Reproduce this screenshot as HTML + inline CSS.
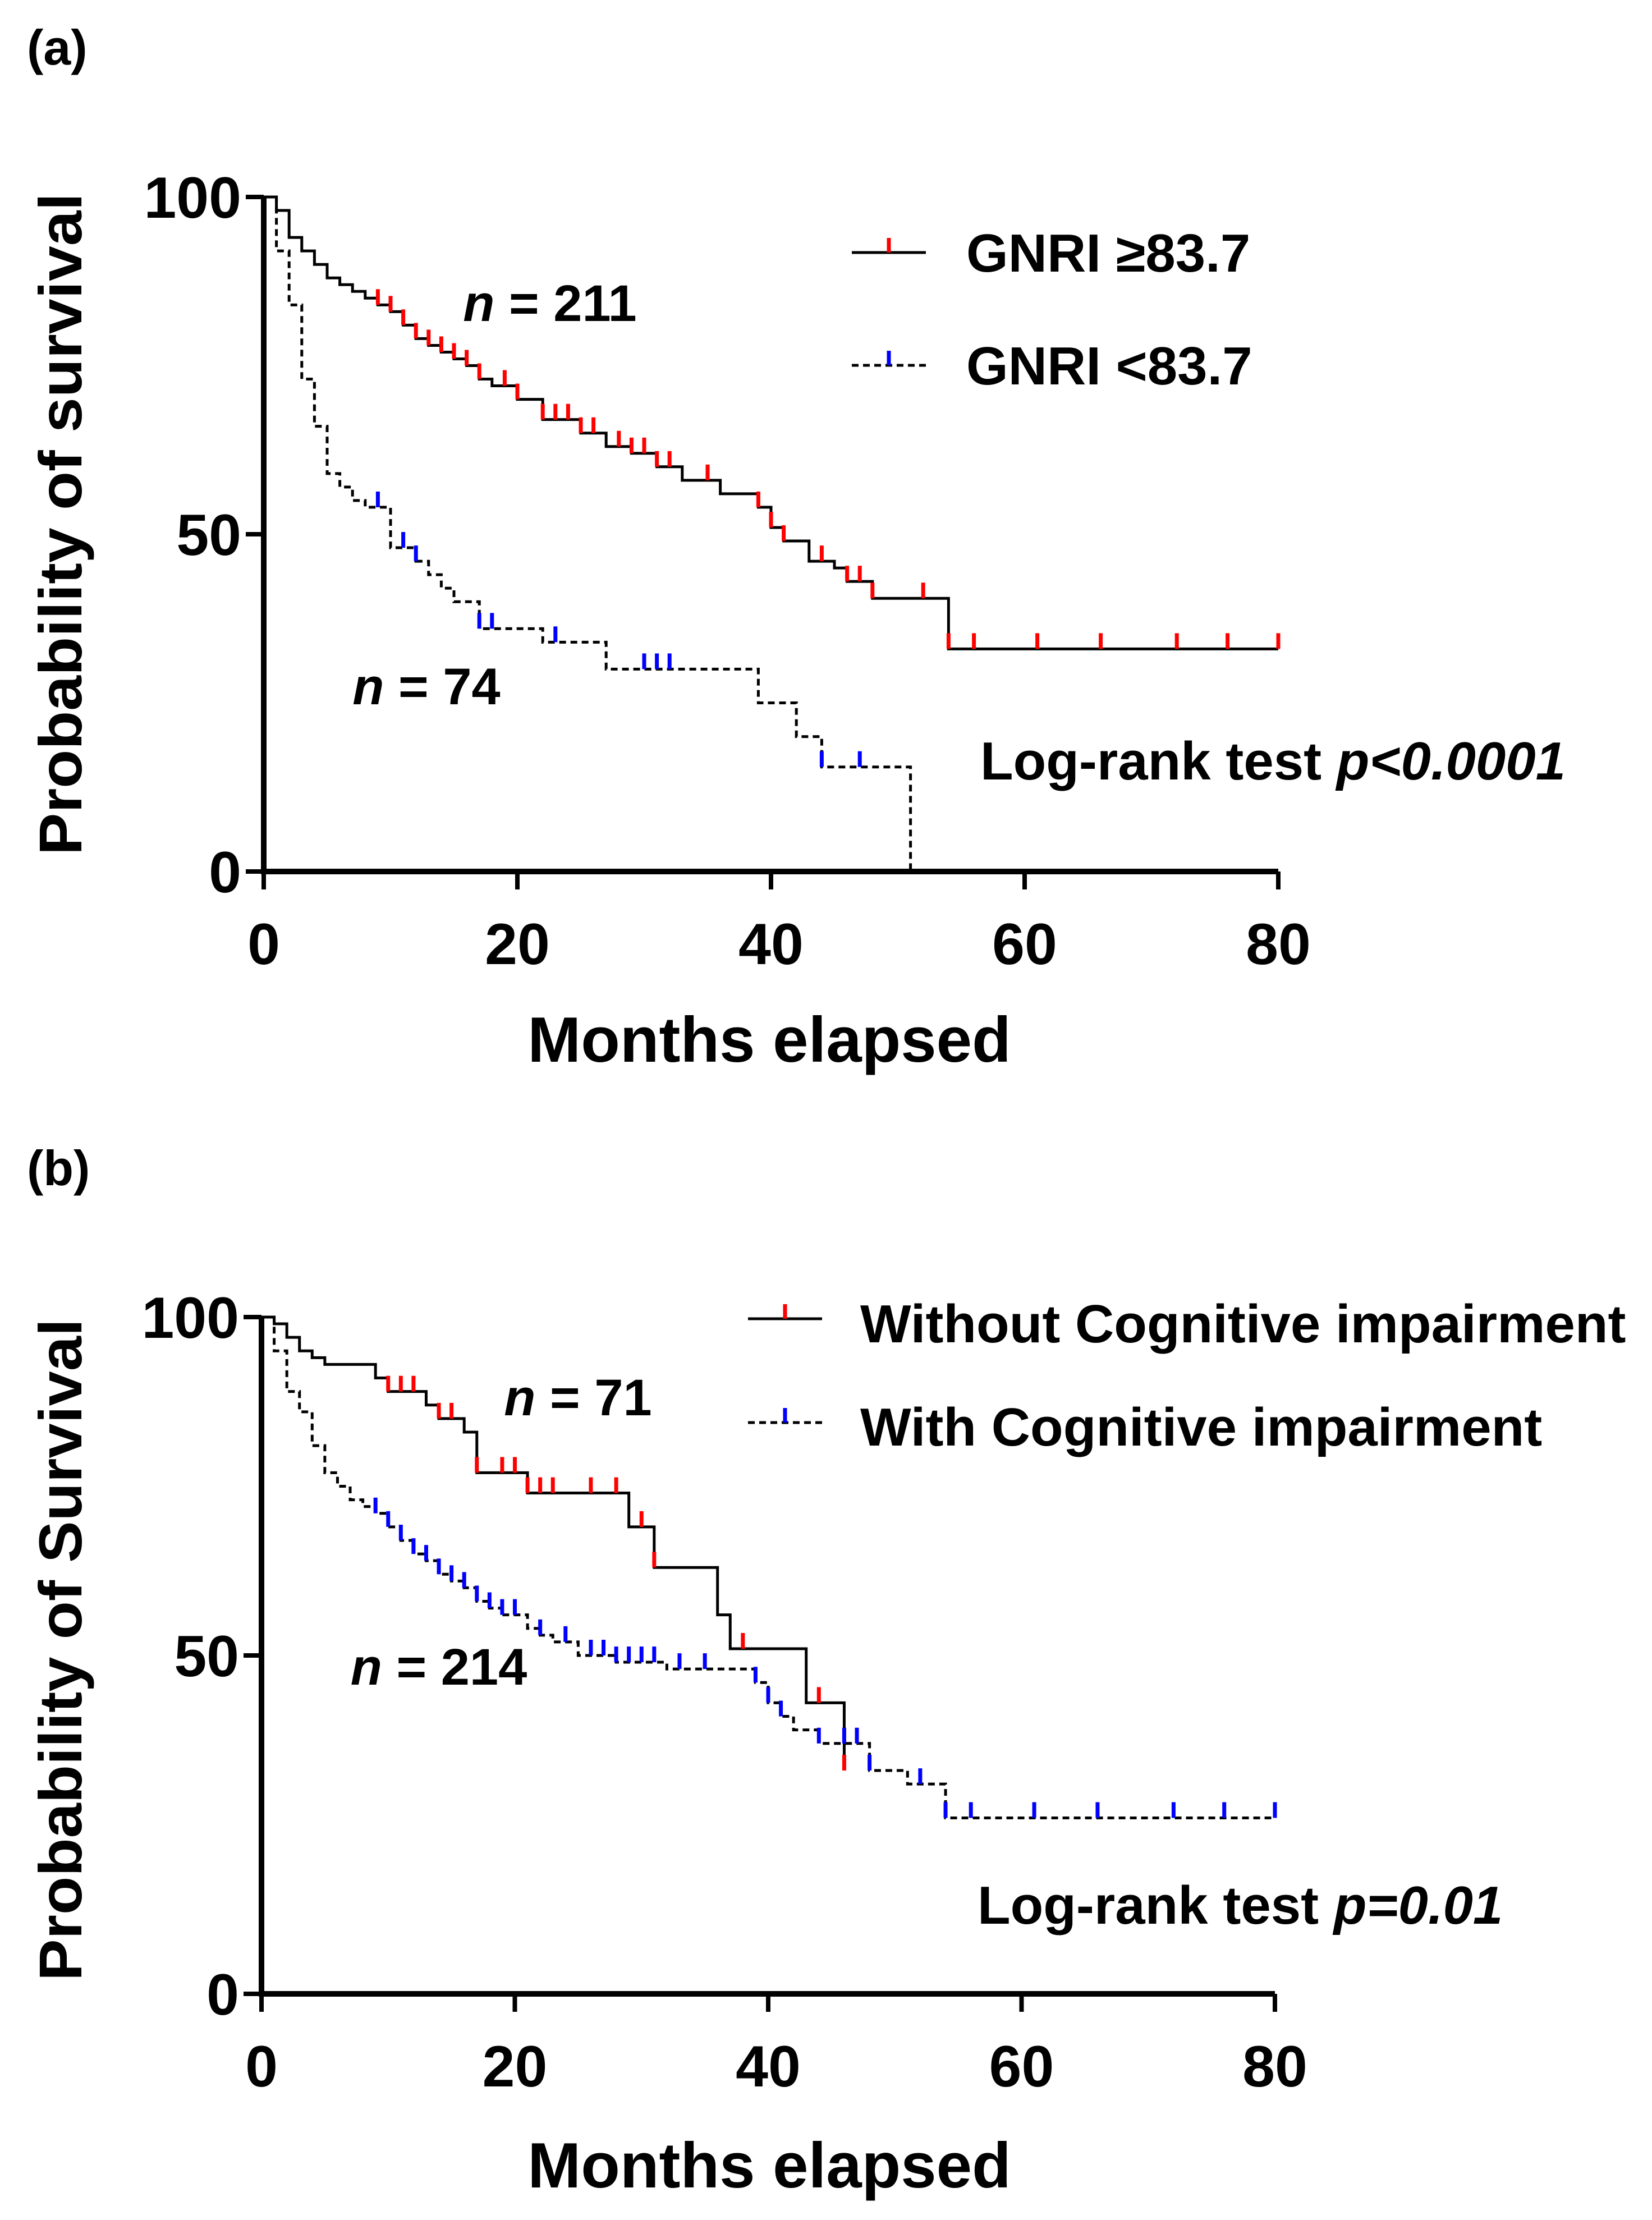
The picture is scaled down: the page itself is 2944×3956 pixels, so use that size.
<!DOCTYPE html>
<html><head><meta charset="utf-8"><style>
body{margin:0;background:#fff}
svg{display:block;font-family:"Liberation Sans",Arial,sans-serif;font-weight:bold}
</style></head><body>
<svg id="fig" width="2944" height="3956" viewBox="0 0 2944 3956" xmlns="http://www.w3.org/2000/svg">
<rect width="2944" height="3956" fill="#fff"/>
<text x="48" y="115" font-size="88">(a)</text>
<text x="48" y="2112" font-size="88">(b)</text>
</svg>
<script>
const xTicks=[0,20,40,60,80];
const yTicks=[0,50,100];
// Panel a
const aHighT=[0,1,2,3,4,5,6,7,8,9,10,11,12,13,14,15,16,17,18,20,22,25,27,29,31,33,36,39,40,41,43,45,46,48,54,80];
const aHighS=[100,98,94,92,90,88,87,86,85,84,83,81,79,78,77,76,75,73,72,70,67,65,63,62,60,58,56,54,51,49,46,45,43,40.5,33,33];
const aHighC=[9,10,11,12,13,14,15,16,17,19,20,22,23,24,25,26,28,29,30,31,32,35,39,40,41,44,46,47,48,52,54,56,61,66,72,76,80];
const aLowT=[0,1,2,3,4,5,6,7,8,10,12,13,14,15,17,22,27,39,42,44,51];
const aLowS=[100,92,84,73,66,59,57,55,54,48,46,44,42,40,36,34,30,25,20,15.5,0];
const aLowC=[9,11,12,17,18,23,30,31,32,44,47];
// Panel b
const bWithoutT=[0,1,2,3,4,5,9,10,13,14,16,17,21,29,31,36,37,43,46];
const bWithoutS=[100,99,97,95,94,93,91,89,87,85,83,77,74,69,63,56,51,43,33];
const bWithoutC=[10,11,12,14,15,17,19,20,21,22,23,26,28,30,31,38,44,46];
const bWithT=[0,1,2,3,4,5,6,7,8,9,10,11,12,13,14,15,16,17,18,19,21,22,23,25,28,32,39,40,41,42,44,48,51,54,80];
const bWithS=[100,95,89,86,81,77,75,73,72,71,69,67,65,64,62,61,60,58,57,56,54,53,52,50,49,48,46,43,41,39,37,33,31,26,26];
const bWithC=[9,10,11,12,13,14,15,16,17,18,19,20,22,24,26,27,28,29,30,31,33,35,39,40,41,44,46,47,48,52,54,56,61,66,72,76,80];

const NS="http://www.w3.org/2000/svg";
const svg=document.getElementById('fig');
function mk(tag,attrs,parent){const e=document.createElementNS(NS,tag);for(const k in attrs)e.setAttribute(k,attrs[k]);(parent||svg).appendChild(e);return e;}
function txt(s,attrs,parent){const e=mk('text',attrs,parent);e.textContent=s;return e;}

function panel(cfg){
  const g=mk('g',{});
  
  
  const X=m=>cfg.x0+(cfg.x1-cfg.x0)*m/80;
  const Y=s=>cfg.y0+(cfg.y100-cfg.y0)*s/100;
  function series(T,S,C,dash,color,nm){
    let d='M'+X(T[0])+','+Y(S[0]);
    for(let i=1;i<T.length;i++){d+=' H'+X(T[i])+' V'+Y(S[i]);}
    const endT=C.length?Math.max(C[C.length-1],T[T.length-1]):T[T.length-1];
    if(X(endT)>X(T[T.length-1]))d+=' H'+X(endT);
    const p=mk('path',{d:d,fill:'none',stroke:'#000','stroke-width':5,'stroke-dasharray':dash},g);
    
    
    C.forEach(c=>{
      let s=S[0];for(let i=0;i<T.length;i++){if(T[i]<=c)s=S[i];}
      const t=mk('line',{x1:X(c),x2:X(c),y1:Y(s),y2:Y(s)-28,stroke:color,'stroke-width':7},g);
      
      
    });
  }
  series(cfg.s1[0],cfg.s1[1],cfg.s1[2],'none','#ff0000',cfg.n1);
  series(cfg.s2[0],cfg.s2[1],cfg.s2[2],'12,8','#0000ff',cfg.n2);
  const ax=mk('path',{d:'M'+cfg.x0+','+(cfg.y100)+' V'+cfg.y0+' H'+cfg.x1,fill:'none',stroke:'#000','stroke-width':10},g);
  
  
  xTicks.forEach(v=>{
    const l=mk('line',{x1:X(v),x2:X(v),y1:cfg.y0,y2:cfg.y0+32,stroke:'#000','stroke-width':8},g);
    
    
    const t=txt(String(v),{x:X(v),y:cfg.y0+165,'font-size':104,'text-anchor':'middle'},g);
    
    
  });
  yTicks.forEach(v=>{
    const l=mk('line',{x1:cfg.x0-32,x2:cfg.x0,y1:Y(v),y2:Y(v),stroke:'#000','stroke-width':8},g);
    
    
    const t=txt(String(v),{x:cfg.x0-40,y:Y(v)+37,'font-size':104,'text-anchor':'end'},g);
    
    
  });
  const xt=txt('Months elapsed',{x:1371,y:cfg.xTitleY,'font-size':114,'text-anchor':'middle'},g);
  
  
  const yt=txt(cfg.yTitle,{x:0,y:0,'font-size':108,'text-anchor':'middle',transform:'translate(145,'+cfg.yTitleC+') rotate(-90)','textLength':1180,'lengthAdjust':'spacingAndGlyphs'},g);
  
  
  cfg.legend.forEach((L,i)=>{
    const lg=mk('g',{},g);
    
    
    mk('line',{x1:L.lx1,x2:L.lx2,y1:L.ly,y2:L.ly,stroke:'#000','stroke-width':5,'stroke-dasharray':i?'12,8':'none'},lg);
    const mx=(L.lx1+L.lx2)/2;
    mk('line',{x1:mx,x2:mx,y1:L.ly,y2:L.ly-26,stroke:i?'#0000ff':'#ff0000','stroke-width':7},lg);
    txt(L.text,{x:L.tx,y:L.ty,'font-size':96},lg);
  });
  cfg.notes.forEach(n=>{
    const t=mk('text',{x:n.x,y:n.y,'font-size':n.fs,'text-anchor':n.anchor||'start'},g);
    
    
    t.innerHTML=n.html;
  });
}
panel({name:'panel-a-chart',x0:470,x1:2278,y0:1553,y100:351,s1:[aHighT,aHighS,aHighC],s2:[aLowT,aLowS,aLowC],n1:'gnri-high',n2:'gnri-low',
  xTitleY:1892,yTitle:'Probability of survival',yTitleC:934,
  legend:[{lx1:1518,lx2:1650,ly:450,tx:1722,ty:484,text:'GNRI \u226583.7'},{lx1:1518,lx2:1650,ly:651,tx:1722,ty:685,text:'GNRI <83.7'}],
  notes:[{x:980,y:572,fs:92,anchor:'middle',name:'n-label-high',html:'<tspan font-style="italic">n</tspan> = 211'},
         {x:760,y:1255,fs:92,anchor:'middle',name:'n-label-low',html:'<tspan font-style="italic">n</tspan> = 74'},
         {x:1747,y:1389,fs:96,name:'log-rank-note',html:'Log-rank test <tspan font-style="italic">p&lt;0.0001</tspan>'}]});
panel({name:'panel-b-chart',x0:466,x1:2272,y0:3553,y100:2347,s1:[bWithoutT,bWithoutS,bWithoutC],s2:[bWithT,bWithS,bWithC],n1:'without-ci',n2:'with-ci',
  xTitleY:3898,yTitle:'Probability of Survival',yTitleC:2940,
  legend:[{lx1:1333,lx2:1465,ly:2350,tx:1533,ty:2392,text:'Without Cognitive impairment'},{lx1:1333,lx2:1465,ly:2535,tx:1533,ty:2576,text:'With Cognitive impairment'}],
  notes:[{x:1030,y:2522,fs:92,anchor:'middle',name:'n-label-without',html:'<tspan font-style="italic">n</tspan> = 71'},
         {x:782,y:3002,fs:92,anchor:'middle',name:'n-label-with',html:'<tspan font-style="italic">n</tspan> = 214'},
         {x:1742,y:3428,fs:96,name:'log-rank-note',html:'Log-rank test <tspan font-style="italic">p=0.01</tspan>'}]});
</script>
</body></html>
